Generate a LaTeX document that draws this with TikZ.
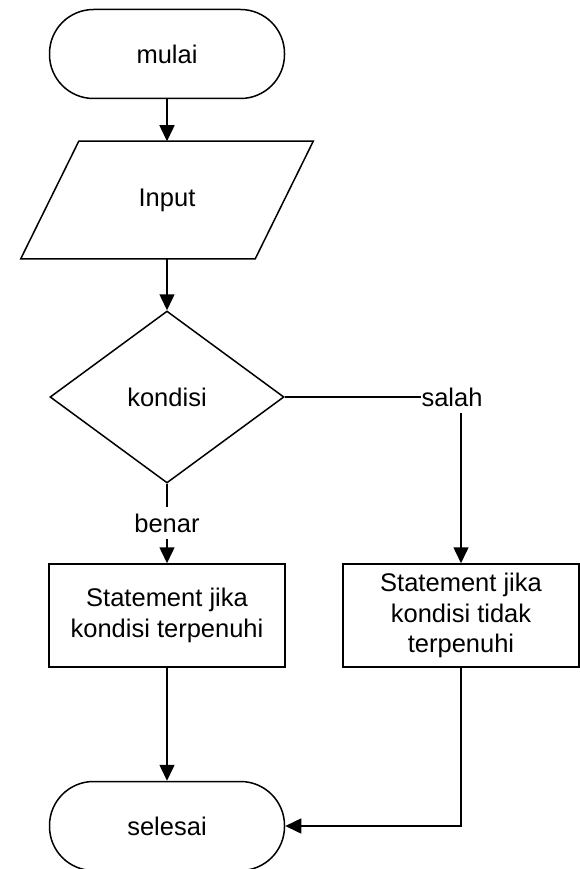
\documentclass[tikz,border=0pt]{standalone}
\usepackage{fontspec}
\setmainfont{Liberation Sans}
\usetikzlibrary{arrows.meta,shapes.geometric,calc}

\begin{document}
\begin{tikzpicture}[x=1pt,y=-1pt,
  line width=1.5pt,
  every node/.style={font=\fontsize{25.5}{30.5}\selectfont, align=center},
  terminal/.style={draw, rectangle, rounded corners=44pt, minimum width=235pt, minimum height=89pt, inner sep=0pt},
  iobox/.style={rectangle, minimum width=233pt, minimum height=116pt, inner sep=0pt},
  decision/.style={draw, diamond, minimum width=234pt, minimum height=172pt, inner sep=0pt},
  process/.style={draw, rectangle, minimum width=236pt, minimum height=103pt, inner sep=0pt},
  branchlabel/.style={inner sep=0pt, minimum height=31pt},
  flow/.style={-{Triangle[length=16pt,width=15pt]}, line width=1.5pt}
]
\useasboundingbox (0,0) rectangle (580,869);

% start / input / decision
\node[terminal] (start) at (167,54) {mulai};
\node[iobox] (input) at (167,200) {Input};
\draw[line join=miter]
  ([xshift=29pt]input.north west) -- ([xshift=29pt]input.north east)
  -- ([xshift=-29pt]input.south east) -- ([xshift=-29pt]input.south west) -- cycle;
\node[decision] (cond) at (167,397) {kondisi};

% branch labels
\node[branchlabel] (yes) at (167,523) {benar};
\node[branchlabel] (no) at (452,397) {salah};

% statements
\node[process] (stmtT) at (167,615.5) {Statement jika\\kondisi terpenuhi};
\node[process] (stmtF) at (461,615.5) {Statement jika\\kondisi tidak\\terpenuhi};

% end
\node[terminal] (stop) at (167,826) {selesai};

% connectors
\draw[flow] (start) -- (input.north);
\draw[flow] (input.south) -- (cond.north);
\draw (cond.south) -- (yes.north);
\draw[flow] (yes.south) -- (stmtT.north);
\draw (cond.east) -- (no.west);
\draw[flow] (no.south -| stmtF.north) -- (stmtF.north);
\draw[flow] (stmtT.south) -- (stop.north);
\draw[flow] (stmtF.south) |- (stop.east);
\end{tikzpicture}
\end{document}
